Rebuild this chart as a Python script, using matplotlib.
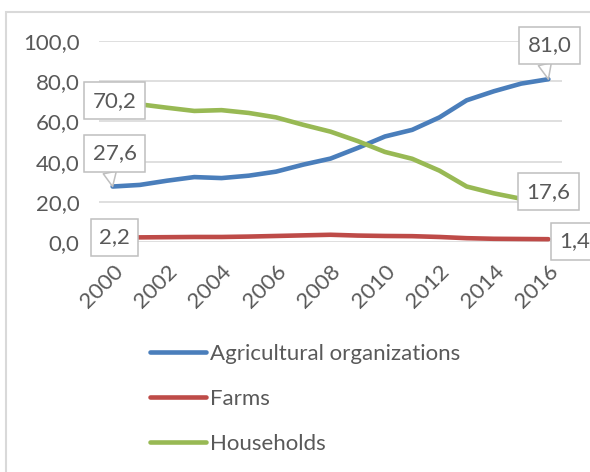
import matplotlib.pyplot as plt
import matplotlib.patches as patches
import numpy as np

plt.rcParams['font.family'] = ['Lato', 'DejaVu Sans']

# data (shares, %)
years = list(range(2000, 2017))
agri_org = [27.6, 28.4, 30.5, 32.3, 31.8, 33.0, 35.0, 38.5, 41.5, 46.8,
            52.5, 55.8, 62.0, 70.5, 75.0, 78.8, 81.0]
farms = [2.2, 2.3, 2.4, 2.5, 2.5, 2.7, 3.0, 3.3, 3.6, 3.2,
         3.0, 2.9, 2.5, 1.9, 1.6, 1.5, 1.4]
households = [70.2, 68.5, 66.8, 65.2, 65.6, 64.2, 62.0, 58.3, 54.9, 50.2,
              44.8, 41.4, 35.5, 27.6, 24.2, 21.5, 17.6]
series_names = ['Agricultural organizations', 'Farms', 'Households']
colors = ['#4A7EBB', '#BE4B48', '#98B954']

txt = '#595959'
grid = '#D9D9D9'
fs = 16

fig = plt.figure(figsize=(5.9, 4.72), dpi=100)
# chart border
fig.patches.append(patches.Rectangle((6 / 590, -0.1), 1.0, 1 - 12 / 472 + 0.1,
                                     transform=fig.transFigure, fill=False,
                                     ec=grid, lw=1.5))
ax = fig.add_axes([99 / 590, 1 - 242 / 472, 463 / 590, 201 / 472])

x = np.arange(len(years))
for vals, name, c in zip([agri_org, farms, households], series_names, colors):
    ax.plot(x, vals, color=c, lw=3.3, label=name, solid_capstyle='round',
            solid_joinstyle='round')

ax.set_xlim(-0.5, len(years) - 0.5)
ax.set_ylim(0, 100)
ax.set_yticks(np.arange(0, 101, 20))
ax.set_yticklabels([f'{v:.1f}'.replace('.', ',') for v in range(0, 101, 20)],
                   color=txt, fontsize=fs)
ax.set_xticks(x[::2])
ax.set_xticklabels([str(y) for y in years[::2]], rotation=45, ha='right',
                   rotation_mode='anchor', color=txt, fontsize=fs)
ax.tick_params(axis='y', length=0, pad=14)
ax.tick_params(axis='x', length=0, pad=14)
ax.grid(axis='y', color=grid, lw=1.2)
ax.set_axisbelow(True)
for s in ax.spines.values():
    s.set_visible(False)

box = dict(boxstyle='square,pad=0.38', fc='white', ec='#BFBFBF', lw=1.1)
wedge = dict(arrowstyle='wedge,tail_width=0.6,shrink_factor=0.5', fc='white',
             ec='#BFBFBF', lw=1.1, shrinkA=0, shrinkB=0, relpos=(0.35, 0))


def lab(i, vals, dx, dy, callout=False):
    s = f'{vals[i]:.1f}'.replace('.', ',')
    ax.annotate(s, (x[i], vals[i]), xytext=(dx, dy), textcoords='offset pixels',
                ha='center', va='center', fontsize=fs, color=txt, bbox=box,
                arrowprops=wedge if callout else None, zorder=5,
                annotation_clip=False)


last = len(years) - 1
lab(0, households, 2, 0)
lab(0, agri_org, 2, 33, callout=True)
lab(0, farms, 2, 0)
lab(last, agri_org, 1, 34, callout=True)
lab(last, households, 0, 15)
lab(last, farms, 26, -2)

fig.legend(loc='upper left', bbox_to_anchor=(150 / 590, 1 - 344 / 472),
           frameon=False, fontsize=fs, labelcolor=txt, handlelength=2.5,
           handletextpad=0.2, labelspacing=1.12, borderpad=0,
           borderaxespad=0)

fig.savefig('out.png', dpi=100)
